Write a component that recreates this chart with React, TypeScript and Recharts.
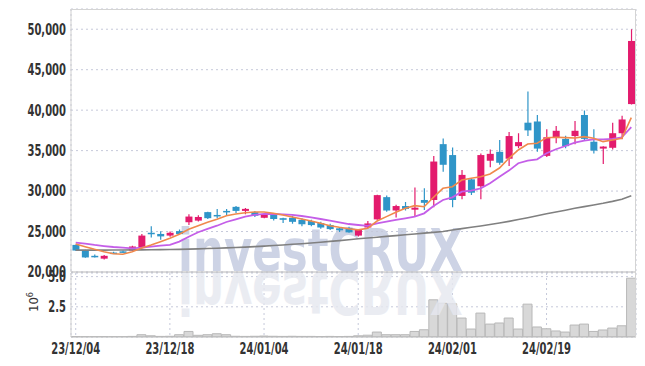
import React from 'react';
import { ComposedChart, Bar, Line, XAxis, YAxis, CartesianGrid } from 'recharts';

const dates = [
  '23/12/04', '23/12/05', '23/12/06', '23/12/07', '23/12/08', '23/12/11', '23/12/12', '23/12/13', '23/12/14', '23/12/15',
  '23/12/18', '23/12/19', '23/12/20', '23/12/21', '23/12/22', '23/12/26', '23/12/27', '23/12/28', '24/01/02', '24/01/03',
  '24/01/04', '24/01/05', '24/01/08', '24/01/09', '24/01/10', '24/01/11', '24/01/12', '24/01/15', '24/01/16', '24/01/17',
  '24/01/18', '24/01/19', '24/01/22', '24/01/23', '24/01/24', '24/01/25', '24/01/26', '24/01/29', '24/01/30', '24/01/31',
  '24/02/01', '24/02/02', '24/02/05', '24/02/06', '24/02/07', '24/02/08', '24/02/13', '24/02/14', '24/02/15', '24/02/16',
  '24/02/19', '24/02/20', '24/02/21', '24/02/22', '24/02/23', '24/02/26', '24/02/27', '24/02/28', '24/02/29', '24/03/04',
];

const tickDates = ['23/12/04', '23/12/18', '24/01/04', '24/01/18', '24/02/01', '24/02/19'];
const priceTicks = [20000, 25000, 30000, 35000, 40000, 45000, 50000];
const volumeTicks = [2.5, 5.0];

const opens = [
  23350, 22700, 22000, 21650, 22400, 22550, 22650, 22950, 24850, 24700,
  24500, 25050, 26150, 26350, 27400, 27050, 27550, 28050, 27550, 27400,
  26700, 27050, 26650, 26700, 26450, 26300, 26050, 25800, 25400, 25450,
  24500, 25500, 26500, 29250, 27600, 28150, 27700, 28900, 28900, 35800,
  34450, 29400, 31450, 30600, 33750, 34850, 34000, 35550, 38450, 38600,
  34350, 36600, 36450, 36800, 39400, 36100, 35250, 35350, 37150, 40750,
];
const highs = [
  23400, 22750, 22150, 22100, 22500, 22650, 23250, 24700, 25650, 25050,
  25000, 25250, 27150, 27000, 27450, 27800, 27800, 28150, 27900, 27550,
  27200, 27250, 26700, 26950, 26650, 26450, 26200, 25950, 25550, 25600,
  25250, 26300, 29550, 29450, 28300, 28650, 30450, 30350, 34350, 36500,
  35400, 32600, 31600, 34650, 35150, 36300, 37300, 37150, 42300, 39400,
  37650, 38050, 36850, 38650, 39950, 37650, 35550, 38450, 39300, 50000,
];
const lows = [
  22600, 21750, 21800, 21550, 22250, 22350, 22600, 22900, 24250, 24000,
  24350, 24650, 25800, 26250, 26550, 26650, 26950, 27300, 27150, 26800,
  26650, 26350, 26050, 25950, 25650, 25650, 25350, 25200, 24950, 24850,
  24400, 25400, 26450, 27450, 26750, 27600, 26900, 27650, 28000, 32400,
  28000, 29000, 29500, 29000, 32950, 33250, 33100, 35300, 36800, 34850,
  34200, 35900, 35300, 35800, 36300, 34650, 33350, 35150, 36400, 40700,
];
const closes = [
  22650, 21800, 21950, 22000, 22350, 22450, 23150, 24500, 24700, 24400,
  24850, 24700, 26850, 26800, 26650, 26900, 27400, 27550, 27800, 26950,
  27050, 26550, 26450, 26200, 25900, 25800, 25500, 25300, 25150, 24900,
  25200, 26000, 29500, 27600, 28150, 27800, 27950, 28550, 33650, 33250,
  28900, 32000, 29800, 34450, 34600, 33500, 36800, 36050, 37500, 35250,
  36650, 37450, 35550, 37450, 36450, 35000, 35500, 37150, 38850, 48550,
];

const ma5 = [
  23460, 23130, 22800, 22510, 22260, 22200, 22500, 22960, 23340, 23750,
  24160, 24660, 25280, 25720, 26140, 26530, 26960, 27170, 27330, 27420,
  27420, 27250, 27050, 26800, 26550, 26300, 26020, 25720, 25520, 25350,
  25210, 25400, 26300, 26840, 27380, 27870, 28200, 28070, 29230, 30340,
  30540, 31370, 31580, 31780, 32110, 32850, 34050, 35080, 35820, 35910,
  36600, 36650, 36600, 36560, 36730, 36530, 36110, 36320, 36530, 39070,
];
const ma10 = [
  23620, 23500, 23340, 23210, 23090, 23000, 22930, 23000, 23130, 23250,
  23340, 23750, 24360, 24910, 25320, 25720, 26180, 26510, 26840, 27050,
  27170, 27170, 27130, 27050, 26920, 26760, 26550, 26340, 26140, 25930,
  25810, 25690, 26020, 26220, 26430, 26640, 26840, 27250, 28160, 28900,
  29230, 29930, 30050, 30340, 30960, 31780, 32530, 33440, 33760, 33930,
  34670, 35170, 35570, 35980, 36230, 36400, 36400, 36440, 36650, 37890,
];
const ma60 = [
  22700, 22700, 22700, 22700, 22710, 22720, 22730, 22740, 22750, 22760,
  22780, 22800, 22830, 22860, 22900, 22940, 22980, 23030, 23080, 23140,
  23200, 23270, 23340, 23420, 23500, 23590, 23680, 23780, 23880, 23990,
  24100, 24200, 24300, 24400, 24500, 24600, 24700, 24800, 24900, 25000,
  25200, 25360, 25520, 25690, 25870, 26060, 26260, 26480, 26710, 26950,
  27200, 27420, 27640, 27870, 28080, 28280, 28490, 28730, 29000, 29430,
];
const volumes = [
  0.03, 0.02, 0.02, 0.03, 0.02, 0.02, 0.05, 0.19, 0.1, 0.05,
  0.06, 0.19, 0.46, 0.14, 0.19, 0.27, 0.19, 0.06, 0.05, 0.06,
  0.08, 0.06, 0.05, 0.06, 0.05, 0.05, 0.04, 0.05, 0.04, 0.05,
  0.1, 0.15, 0.41, 0.19, 0.19, 0.19, 0.46, 0.6, 3.08, 2.8,
  2.75, 1.57, 0.66, 1.98, 1.07, 1.16, 1.57, 0.66, 2.72, 0.83,
  0.68, 0.5, 0.41, 0.99, 1.07, 0.46, 0.58, 0.74, 0.93, 4.87,
];

const data = dates.map((date, i) => ({
  date,
  open: opens[i],
  high: highs[i],
  low: lows[i],
  close: closes[i],
  ma5: ma5[i],
  ma10: ma10[i],
  ma60: ma60[i],
  volume: volumes[i],
}));

const UP = '#e31b6d';
const DOWN = '#2f95c8';
const FONT = "'DejaVu Sans Condensed', 'DejaVu Sans', sans-serif";
const TEXT = '#333333';
const GRID = '#c6c9da';
const SQUEEZE = 0.74;

const Candle = (props: any) => {
  const { x, y, width, height, payload } = props;
  if (!payload) return null;
  const { open, close, high, low } = payload;
  const color = close >= open ? UP : DOWN;
  const top = Math.min(y, y + height);
  const h = Math.abs(height);
  const ratio = h / (high - low);
  const cx = x + width / 2;
  const bTop = top + (high - Math.max(open, close)) * ratio;
  const bBot = top + (high - Math.min(open, close)) * ratio;
  const bw = 7;
  return (
    <g>
      <line x1={cx} x2={cx} y1={top} y2={top + h} stroke={color} strokeWidth={1.2} />
      <rect x={cx - bw / 2} y={bTop} width={bw} height={Math.max(bBot - bTop, 1.5)} fill={color} />
    </g>
  );
};

const fmtPrice = (v: number) => v.toLocaleString('en-US');
const fmtVol = (v: number) => v.toFixed(1);

const YTick = (props: any) => {
  const { x, y, payload, fmt } = props;
  return (
    <g transform={`translate(${x},${y})`}>
      <text transform={`scale(${SQUEEZE},1)`} textAnchor="end" dy="0.36em"
        fontFamily={FONT} fontWeight="bold" fontSize={15} fill={TEXT}>{fmt(payload.value)}</text>
    </g>
  );
};

const XTick = (props: any) => {
  const { x, y, payload } = props;
  return (
    <g transform={`translate(${x},${y})`}>
      <text transform={`scale(${SQUEEZE},1)`} textAnchor="middle" dy="0.72em"
        fontFamily={FONT} fontWeight="bold" fontSize={15} fill={TEXT}>{payload.value}</text>
    </g>
  );
};

export default function App() {
  return (
    <div style={{ position: 'absolute', left: 0, top: 0, width: 645, height: 366, background: '#fff' }}>
      <div style={{ position: 'absolute', left: 0, top: 0 }}>
        <ComposedChart width={645} height={366} data={data} barCategoryGap={0}
          margin={{ top: 273, right: 9, bottom: 0, left: 0 }}>
          <CartesianGrid stroke={GRID} strokeDasharray="2 3" />
          <XAxis dataKey="date" ticks={tickDates} interval={0} tickLine={false} tickSize={0} tickMargin={6}
            height={29} axisLine={{ stroke: '#b8b8b8' }} tick={<XTick />} />
          <YAxis domain={[0, 5.3]} ticks={volumeTicks} width={71}
            tickLine={false} tickSize={0} tickMargin={5} axisLine={{ stroke: '#cfcfcf' }}
            tick={<YTick fmt={fmtVol} />} allowDataOverflow />
          <Bar dataKey="volume" fill="#d8d8d8" stroke="#b8b8b8" strokeWidth={1} isAnimationActive={false} />
        </ComposedChart>
      </div>
      <svg width={645} height={366} style={{ position: 'absolute', left: 0, top: 0 }}>
        <text x={178} y={271} textLength={285} lengthAdjust="spacingAndGlyphs"
          fontFamily="'DejaVu Sans', sans-serif" fontWeight="bold" fontSize={58} fill="#cdd3e5">investCRUX</text>
        <g transform="translate(0,543) scale(1,-1)">
          <text x={178} y={271} textLength={285} lengthAdjust="spacingAndGlyphs"
            fontFamily="'DejaVu Sans', sans-serif" fontWeight="bold" fontSize={58} fill="#e6e8f0" opacity={0.8}>investCRUX</text>
        </g>
        <text transform="translate(38,302) rotate(-90)" textAnchor="middle" fontFamily={FONT} fontSize={13} fill={TEXT}>
          10<tspan dy={-5} fontSize={9}>6</tspan>
        </text>
      </svg>
      <div style={{ position: 'absolute', left: 0, top: 0 }}>
        <ComposedChart width={645} height={290} data={data} margin={{ top: 9, right: 9, bottom: 16, left: 0 }}>
          <CartesianGrid stroke={GRID} strokeDasharray="2 3" />
          <XAxis dataKey="date" ticks={tickDates} interval={0} tick={false} tickLine={false} height={2}
            axisLine={{ stroke: '#b8b8b8' }} />
          <YAxis domain={[20000, 52500]} ticks={priceTicks} width={71}
            tickLine={false} tickSize={0} tickMargin={5} axisLine={{ stroke: '#cfcfcf' }}
            tick={<YTick fmt={fmtPrice} />} allowDataOverflow />
          <Bar dataKey={(d: any) => [d.low, d.high]} shape={<Candle />} isAnimationActive={false} />
          <Line dataKey="ma60" stroke="#808080" strokeWidth={1.6} dot={false} isAnimationActive={false} />
          <Line dataKey="ma10" stroke="#c45ee8" strokeWidth={1.8} dot={false} isAnimationActive={false} />
          <Line dataKey="ma5" stroke="#f0894c" strokeWidth={1.6} dot={false} isAnimationActive={false} />
        </ComposedChart>
      </div>
      <div style={{ position: 'absolute', left: 71, top: 9, width: 565, height: 328,
        borderTop: '1px solid #d4d4d4', borderRight: '1px solid #d4d4d4', boxSizing: 'border-box', pointerEvents: 'none' }} />
    </div>
  );
}
